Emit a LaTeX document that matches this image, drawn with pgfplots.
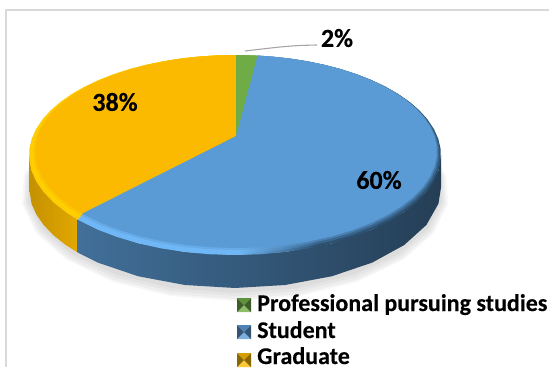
\documentclass[border=0pt]{standalone}
\usepackage{pgfplots}
\pgfplotsset{compat=1.18}
\usepackage{pgfplotstable}
\usepackage{fontspec}
\setmainfont[BoldFeatures={FakeBold=0.25}]{Carlito}
\definecolor{faceblue}{HTML}{5B9BD5}
\definecolor{faceyellow}{HTML}{FBBA00}
\definecolor{facegreen}{HTML}{6FAC46}
\definecolor{rimyellow}{HTML}{FFD000}
\definecolor{rimlight}{HTML}{6FB7F6}
\definecolor{rimdark}{HTML}{2C5070}
% the rim stays light on the left of the disc and turns dark towards the right;
% the three variants step from the outer edge towards the face
\pgfdeclarehorizontalshading{bluerimouter}{100bp}{color(0bp)=(rimlight); color(25bp)=(rimlight); color(47bp)=(rimlight); color(58bp)=(rimdark); color(100bp)=(rimdark)}
\pgfdeclarehorizontalshading{bluerimmiddle}{100bp}{color(0bp)=(rimlight); color(25bp)=(rimlight); color(47bp)=(rimlight); color(58bp)=(rimdark!70!faceblue); color(100bp)=(rimdark!70!faceblue)}
\pgfdeclarehorizontalshading{bluerimnear}{100bp}{color(0bp)=(rimlight!60!faceblue); color(25bp)=(rimlight!60!faceblue); color(47bp)=(rimlight!60!faceblue); color(58bp)=(rimdark!35!faceblue); color(100bp)=(rimdark!35!faceblue)}

% Pie slices: a = angle from 12 o'clock, r = radius fraction, z = 0 top rim / 1 bottom rim.
% Slice boundaries follow the shares 2 %, 60 %, 38 %: 0, 7.2, 223.2, 360 degrees.
\pgfplotstableread{
a r z
0 0 0
0 1 0
3.6 1 0
7.2 1 0
}\greenslice
\pgfplotstableread{
a r z
7.2 0 0
7.2 1 0
12 1 0
18 1 0
24 1 0
30 1 0
36 1 0
42 1 0
48 1 0
54 1 0
60 1 0
66 1 0
72 1 0
78 1 0
84 1 0
90 1 0
96 1 0
102 1 0
108 1 0
114 1 0
120 1 0
126 1 0
132 1 0
138 1 0
144 1 0
150 1 0
156 1 0
162 1 0
168 1 0
174 1 0
180 1 0
186 1 0
192 1 0
198 1 0
204 1 0
210 1 0
216 1 0
223.2 1 0
}\blueslice
\pgfplotstableread{
a r z
223.2 0 0
223.2 1 0
228 1 0
234 1 0
240 1 0
246 1 0
252 1 0
258 1 0
264 1 0
270 1 0
276 1 0
282 1 0
288 1 0
294 1 0
300 1 0
306 1 0
312 1 0
318 1 0
324 1 0
330 1 0
336 1 0
342 1 0
348 1 0
354 1 0
360 1 0
}\yellowslice
% Side walls of the disc, down one rim and back along the other
\pgfplotstableread{
a r z
99 1 1
108 1 1
120 1 1
132 1 1
144 1 1
156 1 1
168 1 1
180 1 1
192 1 1
204 1 1
216 1 1
223.2 1 1
223.2 1 0
216 1 0
204 1 0
192 1 0
180 1 0
168 1 0
156 1 0
144 1 0
132 1 0
120 1 0
108 1 0
99 1 0
}\bluewall
\pgfplotstableread{
a r z
223.2 1 1
228 1 1
234 1 1
240 1 1
246 1 1
252 1 1
261 1 1
261 1 0
252 1 0
246 1 0
240 1 0
234 1 0
228 1 0
223.2 1 0
}\yellowwall
% Whole rim, used for the soft shadow
\pgfplotstableread{
a r z
0 1 1
15 1 1
30 1 1
45 1 1
60 1 1
75 1 1
90 1 1
105 1 1
120 1 1
135 1 1
150 1 1
165 1 1
180 1 1
195 1 1
210 1 1
225 1 1
240 1 1
255 1 1
270 1 1
285 1 1
300 1 1
315 1 1
330 1 1
345 1 1
}\wholerim
% Legend key triangles, as offsets inside a 14 x 14 square
\pgfplotstableread{
dx dy
0 0
14 0
7 7
}\keytop
\pgfplotstableread{
dx dy
0 14
14 14
7 7
}\keybottom
\pgfplotstableread{
dx dy
0 0
0 14
7 7
}\keyleft
\pgfplotstableread{
dx dy
14 0
14 14
7 7
}\keyright

% \discpart{style}{table}{inset}{growth}{shadow shift}
\newcommand{\discpart}[5]{%
  \addplot[draw=none,#1] table[
    x expr={235+(#3)+(206-5*(#3)+(#4))*\thisrow{r}*sin(\thisrow{a})*0.9871/(1+0.16*\thisrow{r}*cos(\thisrow{a}))},
    y expr={155-3.5*(#3)+33*\thisrow{z}+(#5)-(100-3.5*(#3)+(#4))*(\thisrow{r}*cos(\thisrow{a})+0.16)/(1+0.16*\thisrow{r}*cos(\thisrow{a}))}
  ] {#2} -- cycle;
}
% \keypart{colour}{table}{top of key}
\newcommand{\keypart}[3]{%
  \addplot[draw=none,#1] table[x expr={237+\thisrow{dx}}, y expr={#3+\thisrow{dy}}] {#2} -- cycle;
}
% \legendkey{colour}{top of key}: bevelled square
\newcommand{\legendkey}[2]{%
  \keypart{fill=#1!85!black}{\keytop}{#2}
  \keypart{fill=#1!80!white}{\keybottom}{#2}
  \keypart{fill=#1!55!black}{\keyleft}{#2}
  \keypart{fill=#1!55!black}{\keyright}{#2}
}

\begin{document}
\begin{tikzpicture}
\begin{axis}[
  scale only axis, width=549pt, height=367pt,
  xmin=0, xmax=549, ymin=0, ymax=367, y dir=reverse,
  hide axis, clip=true,
  every axis plot/.append style={line join=round}]

% chart frame
\addplot[color=black!15,line width=1.3pt] coordinates {(6,367) (6,10) (549,10)};

% shadow
\discpart{fill=black,fill opacity=0.035}{\wholerim}{0}{8}{5}
\discpart{fill=black,fill opacity=0.035}{\wholerim}{0}{6}{5}
\discpart{fill=black,fill opacity=0.035}{\wholerim}{0}{4}{4}
\discpart{fill=black,fill opacity=0.035}{\wholerim}{0}{2}{3}

% walls
\discpart{left color=black!22!faceyellow,right color=black!10!faceyellow}{\yellowwall}{0}{0}{0}
\discpart{left color=faceblue!72!black,middle color=faceblue!52!black,right color=faceblue!40!black}{\bluewall}{0}{0}{0}

% bevelled rim, softened towards the face
\discpart{fill=rimyellow!75!faceyellow}{\yellowslice}{0}{0}{0}
\discpart{shading=bluerimouter}{\blueslice}{0}{0}{0}
\discpart{fill=facegreen}{\greenslice}{0}{0}{0}
\discpart{fill=rimyellow}{\yellowslice}{0.25}{0}{0}
\discpart{shading=bluerimmiddle}{\blueslice}{0.35}{0}{0}
\discpart{fill=rimyellow!50!faceyellow}{\yellowslice}{0.65}{0}{0}
\discpart{shading=bluerimnear}{\blueslice}{0.7}{0}{0}

% top faces
\discpart{fill=faceyellow}{\yellowslice}{1}{0}{0}
\discpart{fill=faceblue}{\blueslice}{1}{0}{0}
\discpart{fill=facegreen}{\greenslice}{1}{0}{0}

% leader line for the smallest share
\addplot[color=black!35,line width=1.1pt,smooth] coordinates {(245,51) (280,47) (300,45.5) (317,45)};

\node[font=\bfseries\fontsize{26}{26}\selectfont] at (axis cs:115,102) {38\%};
\node[font=\bfseries\fontsize{26}{26}\selectfont] at (axis cs:379,180) {60\%};
\node[font=\bfseries\fontsize{26}{26}\selectfont] at (axis cs:337,38) {2\%};

% legend
\legendkey{facegreen}{298}
\legendkey{faceblue}{325}
\legendkey{faceyellow}{353}
\node[anchor=base west,inner sep=0pt,font=\bfseries\fontsize{24}{24}\selectfont] at (axis cs:257,311) {Professional pursuing studies};
\node[anchor=base west,inner sep=0pt,font=\bfseries\fontsize{24}{24}\selectfont] at (axis cs:257,338) {Student};
\node[anchor=base west,inner sep=0pt,font=\bfseries\fontsize{24}{24}\selectfont] at (axis cs:257,364) {Graduate};
\end{axis}
\useasboundingbox (0,0) rectangle (549pt,367pt);
\end{tikzpicture}
\end{document}
